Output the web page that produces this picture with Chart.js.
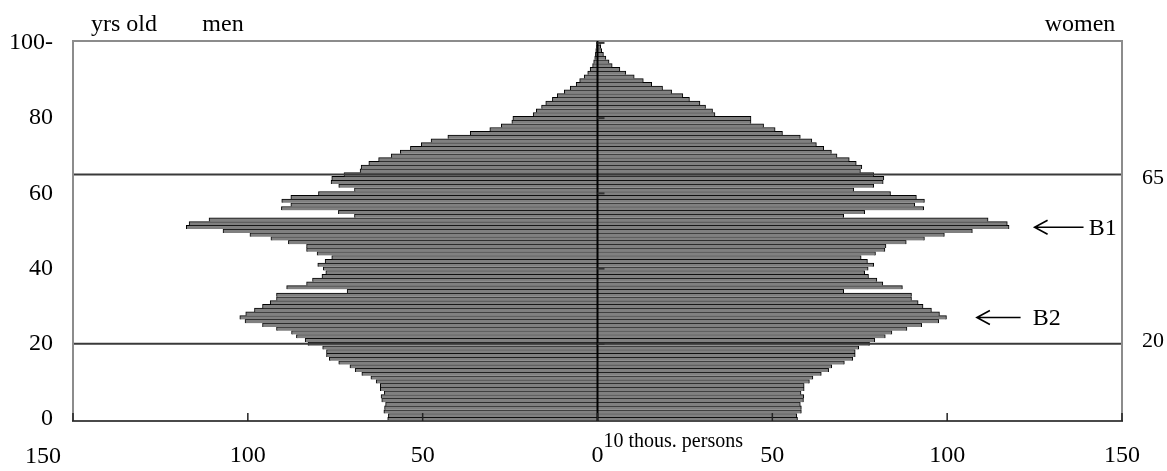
<!DOCTYPE html>
<html>
<head>
<meta charset="utf-8">
<script src="https://cdn.jsdelivr.net/npm/chart.js@4.4.0/dist/chart.umd.min.js"></script>
<style>
  html, body { margin: 0; padding: 0; background: #fff; }
  #wrap { width: 1167px; height: 471px; }
</style>
</head>
<body>
<div id="wrap"><canvas id="chart"></canvas></div>
<script>
// ages 0..100 (100 = "100 and over")
const ages = Array.from({ length: 101 }, (_, i) => i)

// population, 10 thousand persons, index = age
const men = [
  60.0, 59.8, 61.1, 60.9, 60.6, 61.7, 61.9, 61.0, 62.1, 62.1,
  63.3, 64.8, 67.4, 69.3, 70.8, 74.0, 76.7, 77.5, 77.5, 78.6,
  82.8, 83.6, 86.1, 87.5, 91.8, 95.8, 100.8, 102.3, 100.6, 98.1,
  95.8, 93.6, 91.8, 91.8, 71.6, 88.9, 83.2, 81.5, 78.8, 77.7,
  78.4, 80.0, 77.9, 76.0, 80.2, 83.2, 83.2, 88.4, 93.4, 99.4,
  107.1, 117.6, 116.8, 111.1, 69.5, 74.1, 90.4, 87.7, 90.3, 87.7,
  79.8, 69.5, 74.0, 76.2, 76.0, 72.5, 67.9, 67.6, 65.4, 62.6,
  59.0, 56.4, 53.5, 50.4, 47.6, 42.8, 36.4, 30.8, 27.5, 24.5,
  24.2, 18.4, 17.5, 16.0, 14.8, 12.9, 11.5, 9.5, 7.8, 6.1,
  5.1, 3.8, 2.8, 2.1, 1.4, 1.1, 0.8, 0.6, 0.5, 0.3,
  0.3
]
const women = [
  57.2, 57.0, 58.3, 58.3, 58.0, 58.9, 59.0, 58.2, 59.1, 59.1,
  60.6, 61.6, 64.0, 66.1, 67.0, 70.6, 73.0, 73.7, 73.7, 74.7,
  77.8, 79.3, 82.3, 84.2, 88.5, 92.7, 97.6, 99.8, 97.8, 95.5,
  93.1, 91.7, 89.8, 89.8, 70.4, 87.2, 81.6, 79.9, 77.5, 76.4,
  77.4, 79.0, 77.2, 75.4, 79.5, 82.2, 82.5, 88.3, 93.5, 99.2,
  107.2, 117.7, 117.2, 111.7, 70.4, 76.4, 93.3, 90.7, 93.5, 91.2,
  83.8, 73.3, 79.0, 81.7, 81.9, 79.0, 75.2, 75.6, 74.0, 72.0,
  68.5, 66.9, 64.7, 62.6, 61.3, 58.0, 52.9, 50.8, 47.5, 43.9,
  43.9, 33.6, 32.9, 30.9, 29.3, 26.3, 24.4, 21.2, 18.6, 15.5,
  13.1, 10.5, 8.1, 6.4, 4.2, 3.3, 2.4, 1.7, 1.2, 0.9,
  1.0
]

const ageTicks = { 0: '0', 20: '20', 40: '40', 60: '60', 80: '80', 100: '100-' }
const refAges = [65, 20]
const refLabelShift = { 65: 4, 20: -3 }
const boomers = [
  { label: 'B1', age: 51, from: 125, to: 139, text: 140.5 },
  { label: 'B2', age: 27, from: 108.5, to: 121, text: 124.5 }
]

const FONT = '"Liberation Serif", "Times New Roman", serif'

const decor = {
  id: 'decor',
  afterDatasetsDraw(chart) {
    const { ctx, chartArea: a, scales: { x, y } } = chart
    ctx.save()

    // 65 / 20 lines
    ctx.strokeStyle = '#3a3a3a'
    ctx.lineWidth = 2
    refAges.forEach(age => {
      const py = y.getPixelForValue(age)
      ctx.beginPath()
      ctx.moveTo(a.left, py)
      ctx.lineTo(a.right, py)
      ctx.stroke()
    })

    // frame
    ctx.strokeStyle = '#8c8c8c'
    ctx.lineWidth = 2
    ctx.beginPath()
    ctx.moveTo(a.left, a.bottom)
    ctx.lineTo(a.left, a.top)
    ctx.lineTo(a.right, a.top)
    ctx.lineTo(a.right, a.bottom)
    ctx.stroke()
    ctx.strokeStyle = '#4a4a4a'
    ctx.beginPath()
    ctx.moveTo(a.left - 1, a.bottom)
    ctx.lineTo(a.right + 1, a.bottom)
    ctx.stroke()

    // zero axis
    const x0 = x.getPixelForValue(0)
    ctx.strokeStyle = '#000'
    ctx.lineWidth = 2
    ctx.beginPath()
    ctx.moveTo(x0, a.top)
    ctx.lineTo(x0, a.bottom)
    ctx.stroke()

    // small ticks on the zero axis
    ctx.strokeStyle = '#333'
    ctx.lineWidth = 2
    ;[20, 40, 60, 80, 100].forEach(age => {
      const py = y.getPixelForValue(age)
      ctx.beginPath()
      ctx.moveTo(x0, py)
      ctx.lineTo(x0 + 7, py)
      ctx.stroke()
    })

    // inward ticks on the bottom axis
    ctx.strokeStyle = '#222'
    ctx.lineWidth = 1.5
    x.ticks.forEach(t => {
      const px = x.getPixelForValue(t.value)
      ctx.beginPath()
      ctx.moveTo(px, a.bottom)
      ctx.lineTo(px, a.bottom - 8)
      ctx.stroke()
    })

    // texts
    ctx.fillStyle = '#000'
    ctx.textBaseline = 'alphabetic'
    ctx.font = '24px ' + FONT
    ctx.textAlign = 'center'
    ctx.fillText('yrs old', 124, 31)
    ctx.fillText('men', 223, 31)
    ctx.fillText('women', 1080, 31)
    ctx.fillText('150', a.left - 30, 463)

    ctx.textAlign = 'left'
    ctx.font = '20px ' + FONT
    ctx.fillText('10 thous. persons', x0 + 6, 447)

    ctx.font = '22px ' + FONT
    ctx.textBaseline = 'middle'
    refAges.forEach(age => {
      ctx.fillText(String(age), a.right + 20, y.getPixelForValue(age) + refLabelShift[age])
    })

    // B1 / B2 arrows
    ctx.font = '24px ' + FONT
    ctx.strokeStyle = '#000'
    ctx.lineWidth = 1.6
    boomers.forEach(b => {
      const py = y.getPixelForValue(b.age)
      const x1 = x.getPixelForValue(b.from)
      const x2 = x.getPixelForValue(b.to)
      ctx.beginPath()
      ctx.moveTo(x2, py)
      ctx.lineTo(x1, py)
      ctx.moveTo(x1 + 13, py - 7)
      ctx.lineTo(x1, py)
      ctx.lineTo(x1 + 13, py + 7)
      ctx.stroke()
      ctx.fillText(b.label, x.getPixelForValue(b.text), py + 1)
    })

    ctx.restore()
  }
}

const barStyle = {
  backgroundColor: '#808080',
  borderColor: '#000',
  borderWidth: { top: 1, right: 1, bottom: 0, left: 1 },
  borderSkipped: 'start',
  barPercentage: 1,
  categoryPercentage: 1
}

const chart = new Chart(document.getElementById('chart'), {
  type: 'bar',
  data: {
    labels: ages.map(String),
    datasets: [
      { label: 'men', data: men.map(v => -v), ...barStyle },
      { label: 'women', data: women, ...barStyle }
    ]
  },
  options: {
    indexAxis: 'y',
    responsive: true,
    maintainAspectRatio: false,
    animation: false,
    layout: { padding: { top: 41, right: 45, bottom: 0, left: 0 } },
    plugins: {
      legend: { display: false },
      tooltip: { enabled: false }
    },
    scales: {
      x: {
        type: 'linear',
        stacked: true,
        min: -150,
        max: 150,
        afterFit: s => { s.height = 50 },
        grid: { display: false, drawTicks: false },
        border: { display: false },
        ticks: {
          stepSize: 50,
          padding: 20,
          color: '#000',
          font: { family: FONT, size: 24 },
          callback: v => v === -150 ? '' : String(Math.abs(v))
        }
      },
      y: {
        type: 'category',
        stacked: true,
        reverse: true,
        offset: true,
        afterFit: s => { s.width = 73 },
        grid: { display: false, drawTicks: false },
        border: { display: false },
        ticks: {
          autoSkip: false,
          padding: 20,
          color: '#000',
          font: { family: FONT, size: 24 },
          callback: (v, i) => ageTicks[ages[i]] || ''
        }
      }
    }
  },
  plugins: [decor]
})
</script>
</body>
</html>
